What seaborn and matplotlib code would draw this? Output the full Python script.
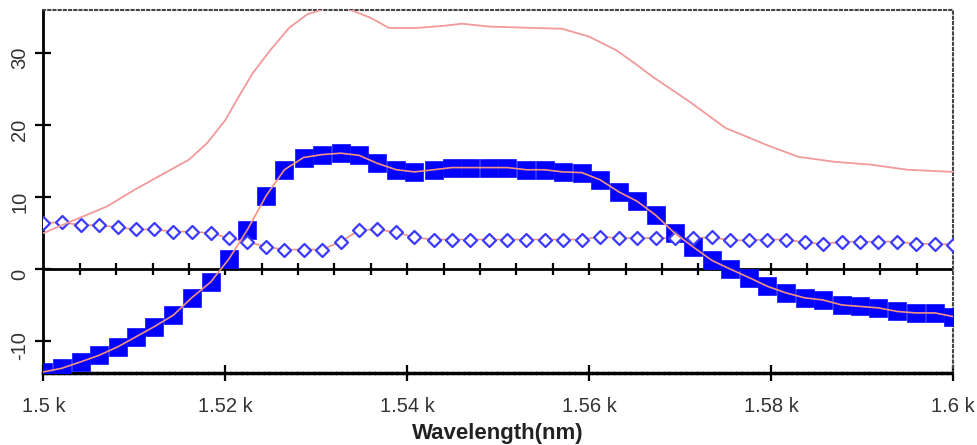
import numpy as np
import pandas as pd
import matplotlib
matplotlib.use('Agg')
import matplotlib.pyplot as plt
from matplotlib.transforms import ScaledTranslation
import seaborn as sns

# Set style
sns.set_style('white')
plt.rcParams['font.family'] = ['Liberation Sans', 'DejaVu Sans']

# Sample wavelengths (nm) of the marker series
wavelength = [1500.0, 1502.0, 1504.1, 1506.1, 1508.2, 1510.2, 1512.2, 1514.3, 1516.3, 1518.4,
              1520.4, 1522.4, 1524.5, 1526.5, 1528.6, 1530.6, 1532.7, 1534.7, 1536.7, 1538.8,
              1540.8, 1542.9, 1544.9, 1546.9, 1549.0, 1551.0, 1553.1, 1555.1, 1557.1, 1559.2,
              1561.2, 1563.3, 1565.3, 1567.3, 1569.4, 1571.4, 1573.5, 1575.5, 1577.6, 1579.6,
              1581.6, 1583.7, 1585.7, 1587.8, 1589.8, 1591.8, 1593.9, 1595.9, 1598.0, 1600.0]

# filled squares
square_vals = [-14.3, -13.8, -12.9, -12.0, -10.8, -9.4, -8.0, -6.4, -4.0, -1.8,
               1.4, 5.4, 10.2, 13.8, 15.5, 15.9, 16.1, 15.8, 14.7, 13.8,
               13.5, 13.8, 14.1, 14.1, 14.1, 14.1, 13.8, 13.8, 13.5, 13.4,
               12.4, 10.7, 9.4, 7.5, 5.0, 3.1, 1.2, 0.0, -1.2, -2.4,
               -3.3, -4.0, -4.3, -5.0, -5.2, -5.4, -5.9, -6.1, -6.1, -6.6]

# open diamonds
diamond_vals = [6.4, 6.5, 6.1, 6.1, 5.8, 5.5, 5.5, 5.2, 5.2, 5.0,
                4.3, 3.8, 3.1, 2.7, 2.7, 2.7, 3.8, 5.4, 5.5, 5.1,
                4.4, 4.1, 4.1, 4.1, 4.1, 4.1, 4.1, 4.1, 4.1, 4.1,
                4.5, 4.3, 4.3, 4.3, 4.3, 4.3, 4.4, 4.0, 4.0, 4.1,
                4.1, 3.7, 3.5, 3.8, 3.8, 3.8, 3.8, 3.5, 3.5, 3.4]

# upper curve (no markers)
top_wl = [1500, 1503, 1507, 1510, 1513, 1516, 1518, 1520, 1521.5, 1523, 1525, 1527, 1529,
          1531, 1533, 1534, 1536, 1538, 1541, 1544, 1546, 1549, 1554, 1557, 1560, 1563,
          1565, 1567, 1571, 1575, 1580, 1583, 1587, 1591, 1595, 1600]
top_vals = [5.0, 6.6, 8.7, 11.0, 13.1, 15.2, 17.5, 20.7, 24.0, 27.2, 30.5, 33.5, 35.4,
            36.2, 36.4, 35.9, 34.9, 33.5, 33.5, 33.8, 34.1, 33.7, 33.5, 33.4, 32.3, 30.4,
            28.6, 26.7, 23.3, 19.6, 17.0, 15.6, 14.9, 14.5, 13.8, 13.5]

x_ticks = [1500, 1520, 1540, 1560, 1580, 1600]
x_tick_labels = ['1.5 k', '1.52 k', '1.54 k', '1.56 k', '1.58 k', '1.6 k']
y_ticks = [-10, 0, 10, 20, 30]
y_tick_labels = ['-10', '0', '10', '20', '30']

df = pd.DataFrame({'wl': wavelength, 'sq': square_vals, 'dm': diamond_vals})
df_top = pd.DataFrame({'wl': top_wl, 'v': top_vals})

line_col = '#f3927f'
top_col = '#f29a9a'

fig = plt.figure(figsize=(9.77, 4.45), dpi=100)
ax = fig.add_axes([0.0444, 0.1618, 0.931, 0.8157])

# zero line with small ticks
ax.axhline(0, color='black', lw=2, zorder=1)
ax.plot(np.arange(1504, 1600, 4), np.zeros(24), linestyle='none', marker='|',
        ms=9, mew=1.6, color='black', zorder=1)

sns.scatterplot(x='wl', y='sq', data=df, ax=ax, marker='s', s=165, color='#0000ff',
                edgecolor='#1010ff', linewidth=0.5, zorder=3)
sns.scatterplot(x='wl', y='dm', data=df, ax=ax, marker='D', s=44, facecolor='white',
                edgecolor='#3a3aff', linewidth=1.6, zorder=3)
sns.lineplot(x='wl', y='sq', data=df, ax=ax, color=line_col, lw=1.2, zorder=4)
sns.lineplot(x='wl', y='dm', data=df, ax=ax, color=line_col, lw=1.2, zorder=2)
sns.lineplot(x='wl', y='v', data=df_top, ax=ax, color=top_col, lw=1.3, zorder=4)

ax.set_xlim(1500, 1600)
ax.set_ylim(-14.45, 36.0)

ax.set_xticks(x_ticks)
ax.set_xticklabels(x_tick_labels)
ax.set_yticks(y_ticks)
ax.set_yticklabels(y_tick_labels, rotation=90, va='center')
ax.tick_params(axis='both', direction='inout', length=12, width=1.6, color='black',
               labelsize=14.5, labelcolor='#333333')
ax.tick_params(axis='x', bottom=True, pad=11)
ax.tick_params(axis='y', left=True, pad=4)
for lab in ax.get_yticklabels():
    lab.set_transform(lab.get_transform() + ScaledTranslation(0, -5 / 100, fig.dpi_scale_trans))

ax.set_xlabel('Wavelength(nm)', fontsize=16, fontweight='bold', color='#222222', labelpad=5)
ax.set_ylabel('')

# spines
ax.spines['left'].set_color('black')
ax.spines['left'].set_linewidth(2)
ax.spines['bottom'].set_color('black')
ax.spines['bottom'].set_linewidth(2.5)
ax.spines['bottom'].set_linestyle((0, (0.8, 0.8)))
for side in ['top', 'right']:
    ax.spines[side].set_visible(True)
    ax.spines[side].set_color('#444444')
    ax.spines[side].set_linewidth(1.5)
    ax.spines[side].set_linestyle((0, (1, 1.5)))

plt.savefig('out.png', dpi=100)
